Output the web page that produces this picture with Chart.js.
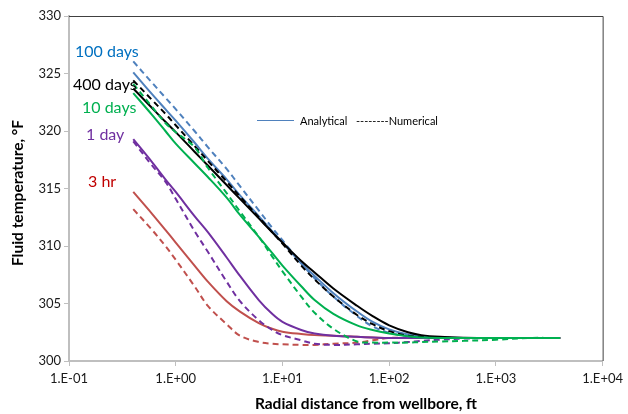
<!DOCTYPE html>
<html>
<head>
<meta charset="utf-8">
<script src="https://cdn.jsdelivr.net/npm/chart.js@4.4.1/dist/chart.umd.min.js"></script>
<style>
  html, body { margin: 0; padding: 0; background: #ffffff; }
  #wrap { width: 628px; height: 414px; position: relative; }
</style>
</head>
<body>
<div id="wrap"><canvas id="c" width="628" height="414"></canvas></div>
<script>
// ---- data ----
const distanceFt = [0.4, 0.6, 0.8, 1, 1.5, 2, 3, 4, 6, 8, 10, 15, 20, 30, 50, 70, 100, 150, 200, 300, 500, 1000, 2000, 4000];

const hr3Analytical    = [314.7, 312.8, 311.4, 310.3, 308.3, 306.9, 305.2, 304.3, 303.3, 302.8, 302.55, 302.35, 302.25, 302.2, 302.1, 302.05, 302.0, 302.0, 302.0, 302.0, 302.0, 302.0, 302.0, 302.0];
const hr3Numerical     = [313.2, 311.4, 310.0, 308.8, 306.5, 304.8, 303.2, 302.2, 301.65, 301.5, 301.45, 301.4, 301.4, 301.5, 301.6, 301.8, 302.0, 302.0, 302.0, 302.0, 302.0, 302.0, 302.0, 302.0];
const day1Analytical   = [319.3, 317.3, 315.8, 314.7, 312.6, 311.2, 309.0, 307.4, 305.3, 304.1, 303.4, 302.7, 302.4, 302.2, 302.1, 302.05, 302.0, 302.0, 302.0, 302.0, 302.0, 302.0, 302.0, 302.0];
const day1Numerical    = [319.1, 317.0, 315.6, 314.1, 311.3, 309.5, 306.9, 305.2, 303.55, 302.7, 302.25, 301.8, 301.5, 301.4, 301.45, 301.5, 301.55, 301.65, 301.75, 301.85, 301.95, 302.0, 302.0, 302.0];
const day10Analytical  = [323.3, 321.4, 320.0, 318.9, 317.2, 316.0, 314.2, 312.7, 310.8, 309.4, 308.3, 306.5, 305.3, 304.1, 303.1, 302.7, 302.4, 302.15, 302.05, 302.0, 302.0, 302.0, 302.0, 302.0];
const day10Numerical   = [324.1, 322.1, 320.7, 319.9, 318.6, 316.8, 314.6, 313.0, 310.8, 309.1, 307.8, 305.6, 304.2, 302.8, 301.7, 301.6, 301.6, 301.6, 301.65, 301.7, 301.75, 301.85, 302.0, 302.0];
const day100Analytical = [325.1, 323.2, 321.9, 320.9, 319.0, 317.6, 315.8, 314.4, 312.6, 311.3, 310.3, 308.5, 307.4, 305.9, 304.3, 303.4, 302.75, 302.3, 302.15, 302.05, 302.0, 302.0, 302.0, 302.0];
const day100Numerical  = [326.05, 324.2, 322.9, 321.9, 320.0, 318.6, 316.7, 315.2, 313.1, 311.6, 310.5, 308.5, 307.2, 305.6, 303.9, 303.0, 302.45, 302.15, 302.07, 302.02, 302.0, 302.0, 302.0, 302.0];
const day400Analytical = [323.7, 322.0, 320.8, 319.9, 318.2, 317.0, 315.3, 314.1, 312.4, 311.2, 310.3, 308.7, 307.7, 306.3, 304.8, 303.9, 303.1, 302.5, 302.25, 302.1, 302.03, 302.0, 302.0, 302.0];
const day400Numerical  = [324.4, 322.7, 321.5, 320.5, 318.7, 317.4, 315.6, 314.3, 312.5, 311.2, 310.2, 308.3, 307.1, 305.6, 304.0, 303.2, 302.6, 302.2, 302.1, 302.03, 302.0, 302.0, 302.0, 302.0];

const xTickValues = [0.1, 1, 10, 100, 1000, 10000];
const yTickValues = [300, 305, 310, 315, 320, 325, 330];

const seriesLabels = ['100 days', '400 days', '10 days', '1 day', '3 hr'];
const xTitle = 'Radial distance from wellbore, ft';
const yTitle = 'Fluid temperature, \u00B0F';
const keyAnalytical = 'Analytical';
const keyNumerical = '--------Numerical';

// ---- styling ----
const C = { red: '#C0504D', purple: '#7030A0', green: '#00B050', blue: '#4F81BD', black: '#000000' };
const FONT = 'Lato, "Liberation Sans", sans-serif';

function pts(ys) { return distanceFt.map((x, i) => ({ x: x, y: ys[i] })); }
function ds(label, ys, color, dashed) {
  return {
    label: label, data: pts(ys), borderColor: color, backgroundColor: color,
    borderWidth: 2, borderDash: dashed ? [6, 4] : [], pointRadius: 0,
    showLine: true, fill: false, tension: 0.35
  };
}

const datasets = [
  ds('10 days analytical', day10Analytical, C.green, false),
  ds('10 days numerical', day10Numerical, C.green, true),
  ds('400 days analytical', day400Analytical, C.black, false),
  ds('400 days numerical', day400Numerical, C.black, true),
  ds('100 days analytical', day100Analytical, C.blue, false),
  ds('100 days numerical', day100Numerical, C.blue, true),
  ds('1 day analytical', day1Analytical, C.purple, false),
  ds('1 day numerical', day1Numerical, C.purple, true),
  ds('3 hr analytical', hr3Analytical, C.red, false),
  ds('3 hr numerical', hr3Numerical, C.red, true)
];

function sciLabel(v) {
  const e = Math.round(Math.log10(v));
  return '1.E' + (e < 0 ? '-' : '+') + String(Math.abs(e)).padStart(2, '0');
}

const decor = {
  id: 'decor',
  beforeDatasetsDraw(chart) {
    const a = chart.chartArea, ctx = chart.ctx;
    ctx.save();
    ctx.strokeStyle = '#404040';
    ctx.lineWidth = 1;
    ctx.beginPath();
    ctx.moveTo(a.left, a.top + 0.5);
    ctx.lineTo(a.right + 0.5, a.top + 0.5);
    ctx.lineTo(a.right + 0.5, a.bottom);
    ctx.stroke();
    ctx.restore();
  },
  afterDraw(chart) {
    const ctx = chart.ctx, a = chart.chartArea;
    ctx.save();
    // series labels
    ctx.font = '16px ' + FONT;
    ctx.textBaseline = 'alphabetic';
    ctx.textAlign = 'left';
    const lab = [
      [seriesLabels[0], 75, 57, '#0070C0'],
      [seriesLabels[1], 73, 90, '#000000'],
      [seriesLabels[2], 82, 113, C.green],
      [seriesLabels[3], 86, 140, C.purple],
      [seriesLabels[4], 88, 187, '#C00000']
    ];
    lab.forEach(l => { ctx.fillStyle = l[3]; ctx.fillText(l[0], l[1], l[2]); });
    // key
    ctx.strokeStyle = C.blue; ctx.lineWidth = 1;
    ctx.beginPath(); ctx.moveTo(257, 120.5); ctx.lineTo(294, 120.5); ctx.stroke();
    ctx.font = '11px ' + FONT; ctx.fillStyle = '#000';
    ctx.textBaseline = 'middle';
    ctx.fillText(keyAnalytical, 300, 121);
    ctx.fillText(keyNumerical, 356, 121);
    // axis titles
    ctx.font = 'bold 15.5px ' + FONT;
    ctx.textAlign = 'center';
    ctx.fillStyle = '#000';
    ctx.fillText(xTitle, 366, 404);
    ctx.translate(18, 193);
    ctx.rotate(-Math.PI / 2);
    ctx.fillText(yTitle, 0, 0);
    ctx.restore();
  }
};

new Chart(document.getElementById('c'), {
  type: 'scatter',
  data: { datasets: datasets },
  options: {
    responsive: false,
    animation: false,
    layout: { padding: { top: 16, right: 21, left: 0, bottom: 0 } },
    plugins: { legend: { display: false }, tooltip: { enabled: false } },
    scales: {
      x: {
        type: 'logarithmic', min: 0.1, max: 10000,
        afterBuildTicks: s => { s.ticks = xTickValues.map(v => ({ value: v })); },
        afterFit: s => { s.height = 53; },
        grid: { display: true, drawOnChartArea: false, drawTicks: true, tickLength: 5, color: '#BFBFBF', lineWidth: 1 },
        border: { display: true, color: '#BFBFBF', width: 2 },
        ticks: { autoSkip: false, maxRotation: 0, padding: 5, color: '#1a1a1a', font: { family: FONT, size: 13 }, callback: v => sciLabel(v) }
      },
      y: {
        min: 300, max: 330,
        afterBuildTicks: s => { s.ticks = yTickValues.map(v => ({ value: v })); },
        afterFit: s => { s.width = 69; },
        grid: { display: true, drawOnChartArea: false, drawTicks: true, tickLength: 5, color: '#BFBFBF', lineWidth: 1 },
        border: { display: true, color: '#BFBFBF', width: 2 },
        ticks: { padding: 3, color: '#1a1a1a', font: { family: FONT, size: 13 } }
      }
    }
  },
  plugins: [decor]
});
</script>
</body>
</html>
